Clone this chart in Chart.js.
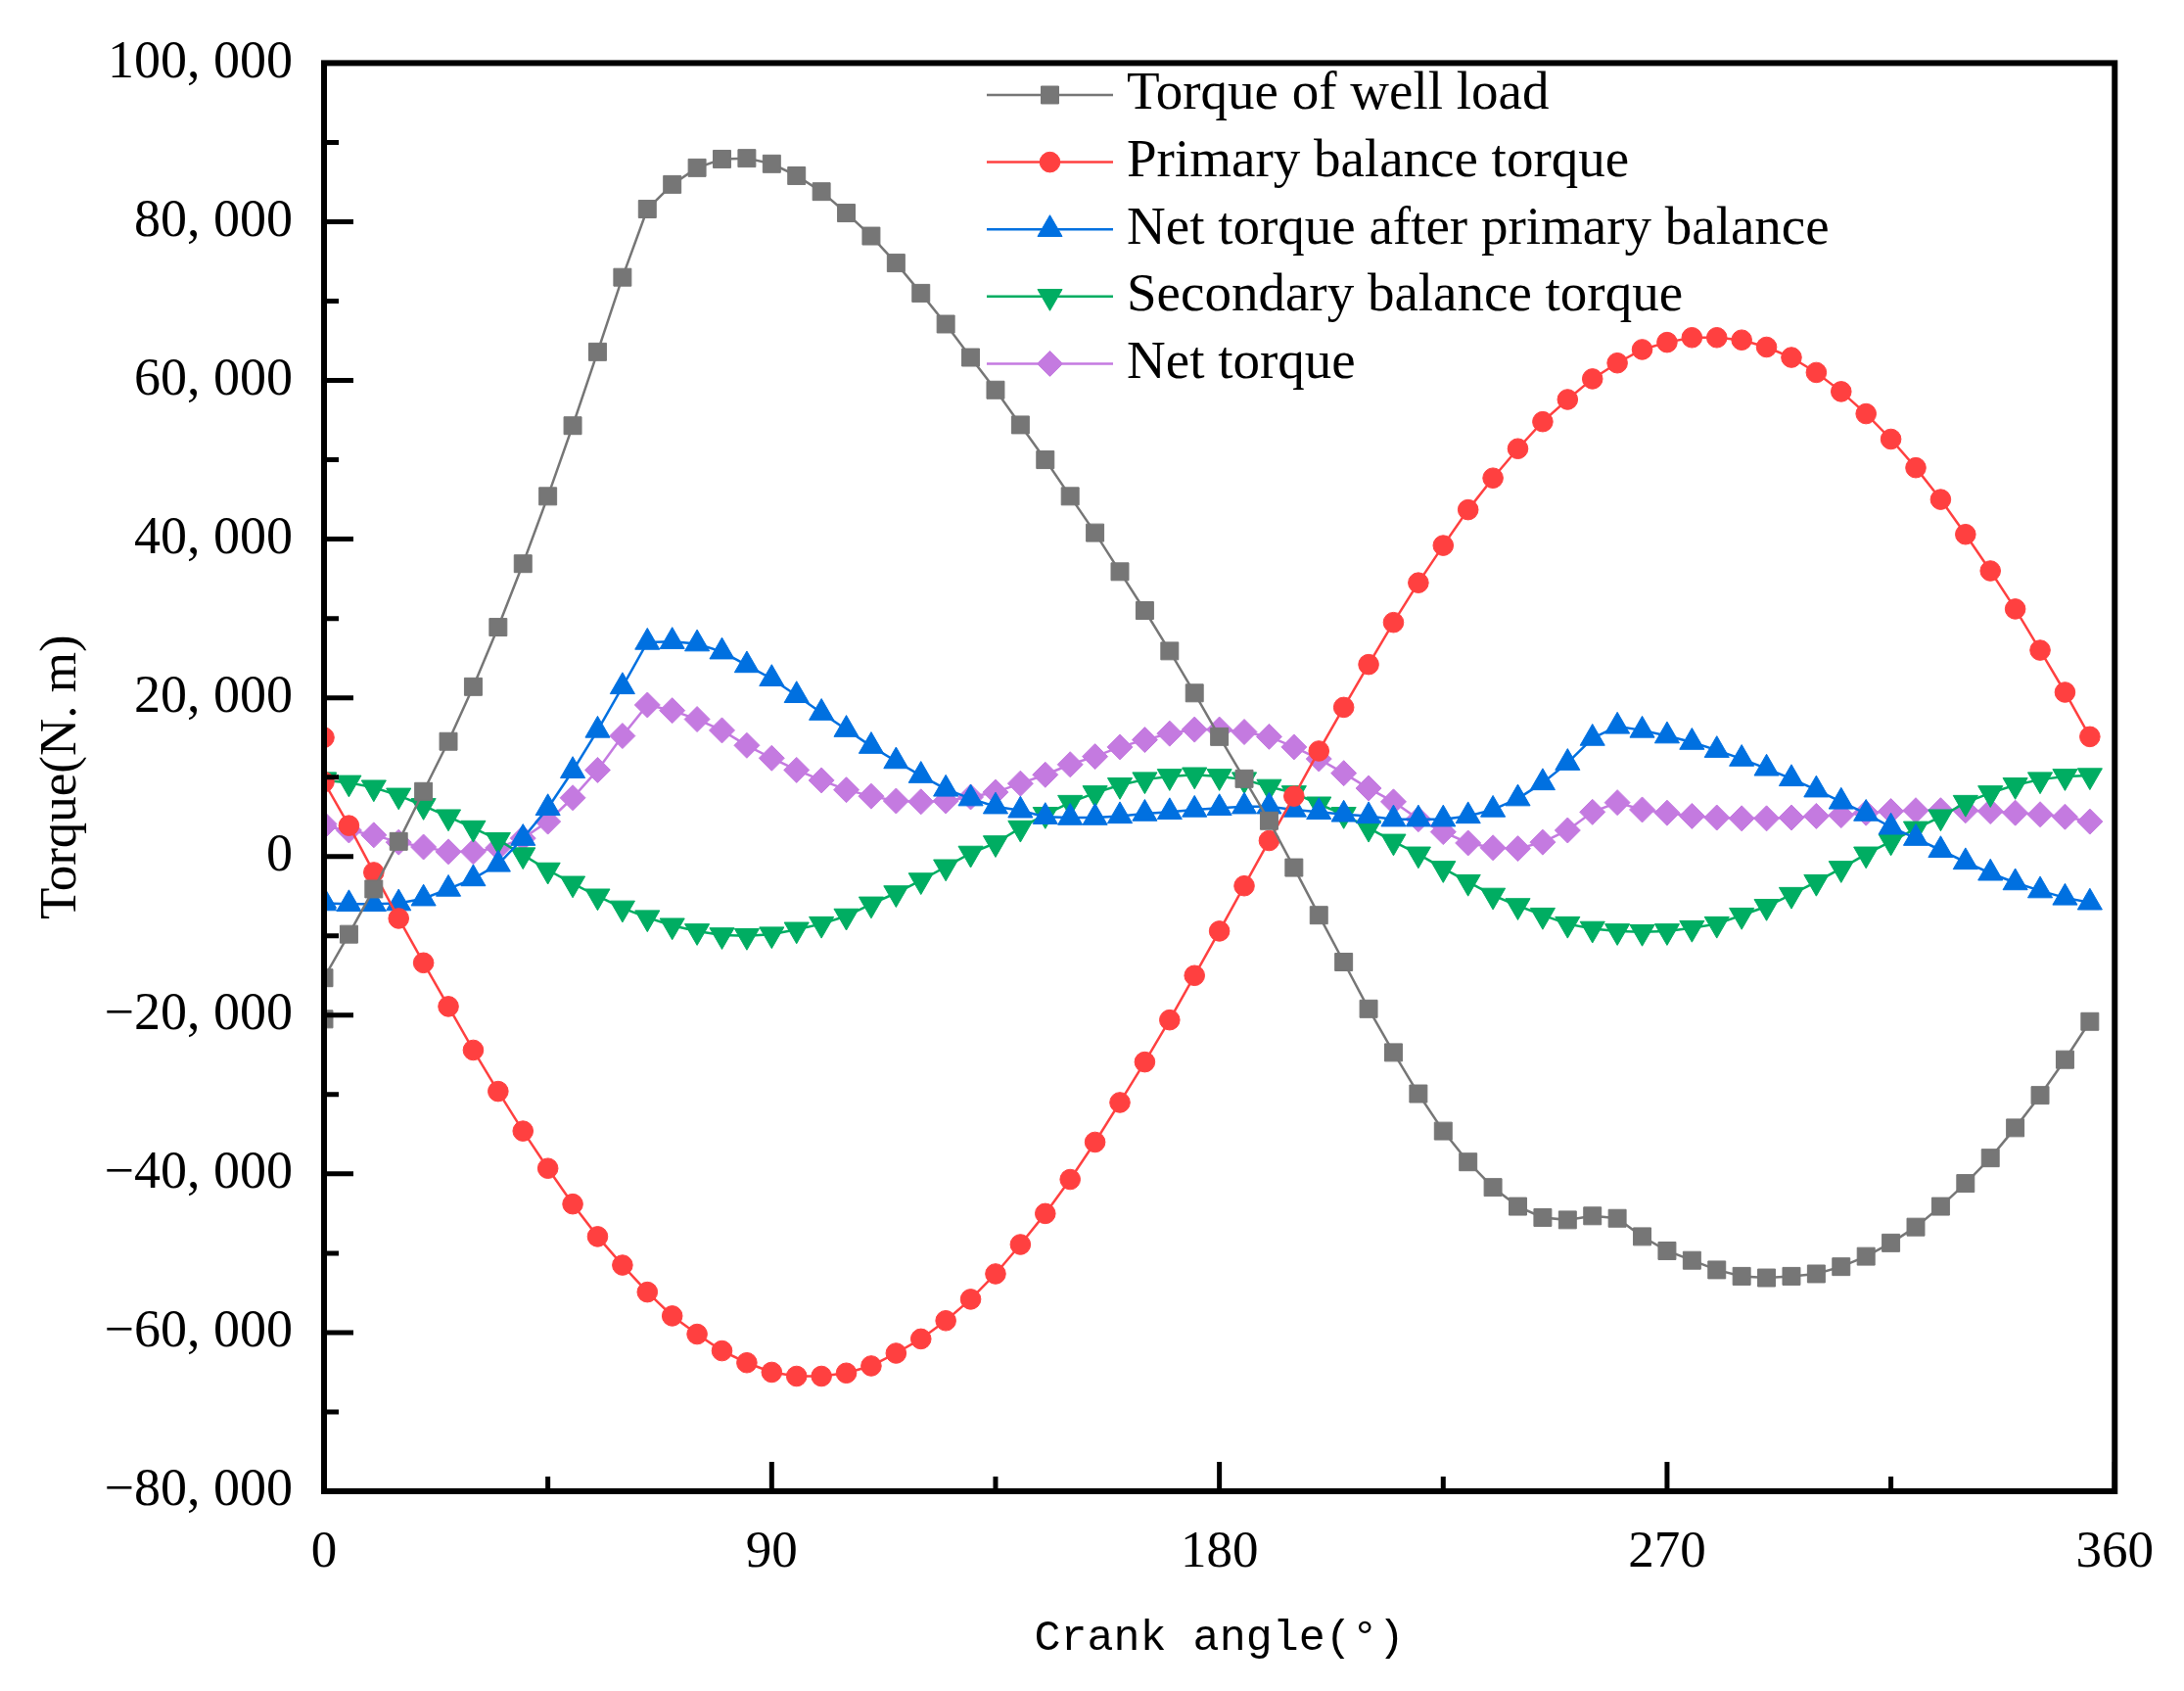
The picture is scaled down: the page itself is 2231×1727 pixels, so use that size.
<!DOCTYPE html>
<html lang="en">
<head>
  <meta charset="UTF-8" />
  <title>Torque vs crank angle</title>
  <script src="https://cdn.jsdelivr.net/npm/chart.js@4.4.1/dist/chart.umd.min.js"></script>
  <style>
    html, body { margin: 0; padding: 0; background: #fff; overflow: hidden; }
    #torqueChart { display: block; }
  </style>
</head>
<body>
  <canvas id="torqueChart" width="2231" height="1727" style="width:2231px;height:1727px"></canvas>

  <script>
    // crank angle (deg) - the picture has two samples at 0
    const angles = [0, 0,
      5, 10, 15, 20, 25, 30, 35, 40, 45,
      50, 55, 60, 65, 70, 75, 80, 85, 90,
      95, 100, 105, 110, 115, 120, 125, 130, 135,
      140, 145, 150, 155, 160, 165, 170, 175, 180,
      185, 190, 195, 200, 205, 210, 215, 220, 225,
      230, 235, 240, 245, 250, 255, 260, 265, 270,
      275, 280, 285, 290, 295, 300, 305, 310, 315,
      320, 325, 330, 335, 340, 345, 350, 355];

    const wellLoadTorque = [-20500, -15300,
      -9800, -4100, 1900, 8200, 14500, 21400, 28900, 36900, 45400,
      54300, 63600, 73000, 81600, 84700, 86800, 87900, 88000, 87300,
      85800, 83800, 81100, 78200, 74800, 71000, 67100, 62900, 58800,
      54400, 50000, 45400, 40800, 35900, 31000, 25900, 20600, 15100,
      9800, 4500, -1400, -7400, -13300, -19200, -24700, -29900, -34600,
      -38500, -41700, -44100, -45500, -45800, -45300, -45600, -47900, -49700,
      -50900, -52100, -52900, -53100, -52900, -52600, -51700, -50400, -48700,
      -46700, -44100, -41200, -38000, -34200, -30100, -25600, -20800];

    const primaryBalance = [15000, 9400,
      3900, -2000, -7800, -13400, -18900, -24400, -29600, -34600, -39300,
      -43800, -47900, -51500, -54900, -57900, -60200, -62300, -63800, -65000,
      -65500, -65500, -65100, -64200, -62600, -60800, -58500, -55800, -52600,
      -48900, -45000, -40700, -36000, -31000, -25900, -20600, -15000, -9400,
      -3700, 2000, 7600, 13300, 18800, 24200, 29500, 34500, 39200,
      43700, 47700, 51400, 54800, 57600, 60200, 62200, 63900, 64800,
      65400, 65400, 65100, 64200, 62900, 61000, 58600, 55800, 52600,
      49000, 45000, 40600, 36000, 31200, 26000, 20700, 15100];

    const netAfterPrimary = [-5600, -5900,
      -6000, -6000, -5900, -5300, -4100, -2800, -1000, 2300, 6100,
      10800, 15900, 21400, 27000, 27100, 26800, 25800, 24100, 22400,
      20300, 18100, 16000, 13900, 12000, 10200, 8500, 7300, 6300,
      5800, 5000, 4900, 4900, 5100, 5400, 5600, 5900, 6100,
      6300, 6300, 5900, 5600, 5300, 5100, 4700, 4700, 4700,
      5100, 5900, 7300, 9300, 11800, 14900, 16400, 15900, 15200,
      14400, 13400, 12300, 11100, 9800, 8400, 6900, 5400, 3700,
      2300, 800, -700, -2100, -3300, -4300, -5200, -5800];

    const secondaryBalance = [9700, 9600,
      9300, 8700, 7700, 6400, 5000, 3600, 2100, 200, -1700,
      -3400, -5000, -6500, -7700, -8700, -9400, -9900, -10000, -9800,
      -9200, -8500, -7500, -6000, -4600, -3000, -1300, 400, 1700,
      3600, 5300, 6800, 8000, 9000, 9700, 10100, 10300, 10100,
      9700, 8800, 8000, 6600, 5300, 3600, 1900, 300, -1500,
      -3200, -4900, -6200, -7400, -8500, -9100, -9400, -9500, -9400,
      -9000, -8500, -7400, -6300, -4800, -3200, -1500, 300, 1900,
      3500, 5000, 6800, 8000, 9000, 9700, 10100, 10200];

    const netTorque = [4100, 3800,
      3300, 2700, 1800, 1200, 600, 600, 1100, 2300, 4400,
      7400, 10900, 15200, 19100, 18400, 17300, 15900, 14000, 12400,
      10900, 9600, 8400, 7600, 7000, 6900, 7000, 7500, 8100,
      9200, 10300, 11600, 12600, 13800, 14700, 15500, 16000, 16000,
      15700, 15100, 13800, 12300, 10500, 8600, 6900, 4700, 3100,
      1700, 1100, 1000, 1800, 3300, 5600, 6800, 5900, 5500,
      5100, 4900, 4800, 4800, 4900, 5100, 5200, 5500, 5700,
      5800, 5800, 5800, 5700, 5500, 5300, 5000, 4400];

    const seriesLabels = ['Torque of well load', 'Primary balance torque',
      'Net torque after primary balance', 'Secondary balance torque', 'Net torque'];

    const points = vals => angles.map((a, i) => ({ x: a, y: vals[i] }));

    function makeSet(label, vals, color, style, radius, rotation) {
      return {
        label,
        data: points(vals),
        borderColor: color,
        backgroundColor: color,
        borderWidth: 2.5,
        pointStyle: style,
        pointRadius: radius,
        pointRotation: rotation || 0,
        pointBackgroundColor: color,
        pointBorderColor: color,
        pointBorderWidth: 1,
        tension: 0
      };
    }

    function fmtTorque(v) {
      if (v === 0) return '0';
      const s = Math.abs(v).toLocaleString('en-US').replace(/,/g, ', ');
      return (v < 0 ? '\u2212' : '') + s;
    }

    // legend sits inside the plot, upper middle
    const legendBox = { lineX1: 1008, lineX2: 1137, textX: 1151, firstY: 97, rowGap: 68.6 };

    const insideLegend = {
      id: 'insideLegend',
      afterDatasetsDraw(chart) {
        const ctx = chart.ctx;
        chart.data.datasets.forEach((ds, i) => {
          const y = legendBox.firstY + i * legendBox.rowGap;
          ctx.save();
          ctx.strokeStyle = ds.borderColor;
          ctx.lineWidth = ds.borderWidth;
          ctx.beginPath();
          ctx.moveTo(legendBox.lineX1, y);
          ctx.lineTo(legendBox.lineX2, y);
          ctx.stroke();
          ctx.fillStyle = ds.pointBackgroundColor;
          ctx.strokeStyle = ds.pointBorderColor;
          ctx.lineWidth = 1;
          Chart.helpers.drawPoint(ctx, {
            pointStyle: ds.pointStyle,
            radius: ds.pointRadius,
            rotation: ds.pointRotation,
            borderWidth: 1
          }, (legendBox.lineX1 + legendBox.lineX2) / 2, y);
          ctx.fillStyle = '#000';
          ctx.font = '55px "Liberation Serif"';
          ctx.textAlign = 'left';
          ctx.textBaseline = 'middle';
          ctx.fillText(ds.label, legendBox.textX, y);
          ctx.restore();
        });
      }
    };

    // box frame plus inward major / minor ticks on left and bottom
    const frameAndTicks = {
      id: 'frameAndTicks',
      afterDraw(chart) {
        const { ctx, chartArea: a, scales: { x, y } } = chart;
        const yMajor = y.ticks.map(t => t.value);
        const xMajor = x.ticks.map(t => t.value);
        const mids = arr => arr.slice(1).map((v, i) => (v + arr[i]) / 2);

        ctx.save();
        ctx.strokeStyle = '#000';
        ctx.lineWidth = 5;
        ctx.beginPath();
        yMajor.forEach(v => { const p = y.getPixelForValue(v); ctx.moveTo(a.left, p); ctx.lineTo(a.left + 30, p); });
        mids(yMajor).forEach(v => { const p = y.getPixelForValue(v); ctx.moveTo(a.left, p); ctx.lineTo(a.left + 15, p); });
        xMajor.forEach(v => { const p = x.getPixelForValue(v); ctx.moveTo(p, a.bottom); ctx.lineTo(p, a.bottom - 30); });
        mids(xMajor).forEach(v => { const p = x.getPixelForValue(v); ctx.moveTo(p, a.bottom); ctx.lineTo(p, a.bottom - 15); });
        ctx.stroke();
        ctx.lineWidth = 6;
        ctx.strokeRect(a.left, a.top, a.right - a.left, a.bottom - a.top);
        ctx.restore();
      }
    };

    const ctx = document.getElementById('torqueChart').getContext('2d');
    new Chart(ctx, {
      type: 'line',
      data: {
        datasets: [
          makeSet(seriesLabels[0], wellLoadTorque, '#767676', 'rect', 12.7),
          makeSet(seriesLabels[1], primaryBalance, '#ff4040', 'circle', 10.3),
          makeSet(seriesLabels[2], netAfterPrimary, '#0070e0', 'triangle', 14.5),
          makeSet(seriesLabels[3], secondaryBalance, '#00ad62', 'triangle', 14.5, 180),
          makeSet(seriesLabels[4], netTorque, '#c47ae0', 'rectRot', 13)
        ]
      },
      options: {
        responsive: false,
        animation: false,
        devicePixelRatio: 1,
        layout: { padding: { top: 61, right: 68, bottom: 0, left: 0 } },
        plugins: {
          legend: { display: false },
          tooltip: { enabled: false }
        },
        scales: {
          x: {
            type: 'linear',
            min: 0,
            max: 360,
            afterFit: s => { s.height = 204; },
            border: { display: false },
            grid: { display: false, drawTicks: false },
            ticks: {
              stepSize: 90,
              padding: 31,
              color: '#000',
              font: { family: 'Liberation Serif', size: 53 }
            },
            title: {
              display: true,
              text: 'Crank angle(°)',
              color: '#000',
              font: { family: 'Liberation Mono', size: 45 },
              padding: { top: 0, bottom: 27 }
            }
          },
          y: {
            min: -80000,
            max: 100000,
            afterFit: s => { s.width = 331; },
            border: { display: false },
            grid: { display: false, drawTicks: false },
            ticks: {
              stepSize: 20000,
              padding: 32,
              color: '#000',
              font: { family: 'Liberation Serif', size: 54 },
              callback: v => fmtTorque(v)
            },
            title: {
              display: true,
              text: 'Torque(N. m)',
              color: '#000',
              font: { family: 'Liberation Serif', size: 53 },
              padding: { top: 31, bottom: 0 }
            }
          }
        }
      },
      plugins: [insideLegend, frameAndTicks]
    });
  </script>
</body>
</html>
